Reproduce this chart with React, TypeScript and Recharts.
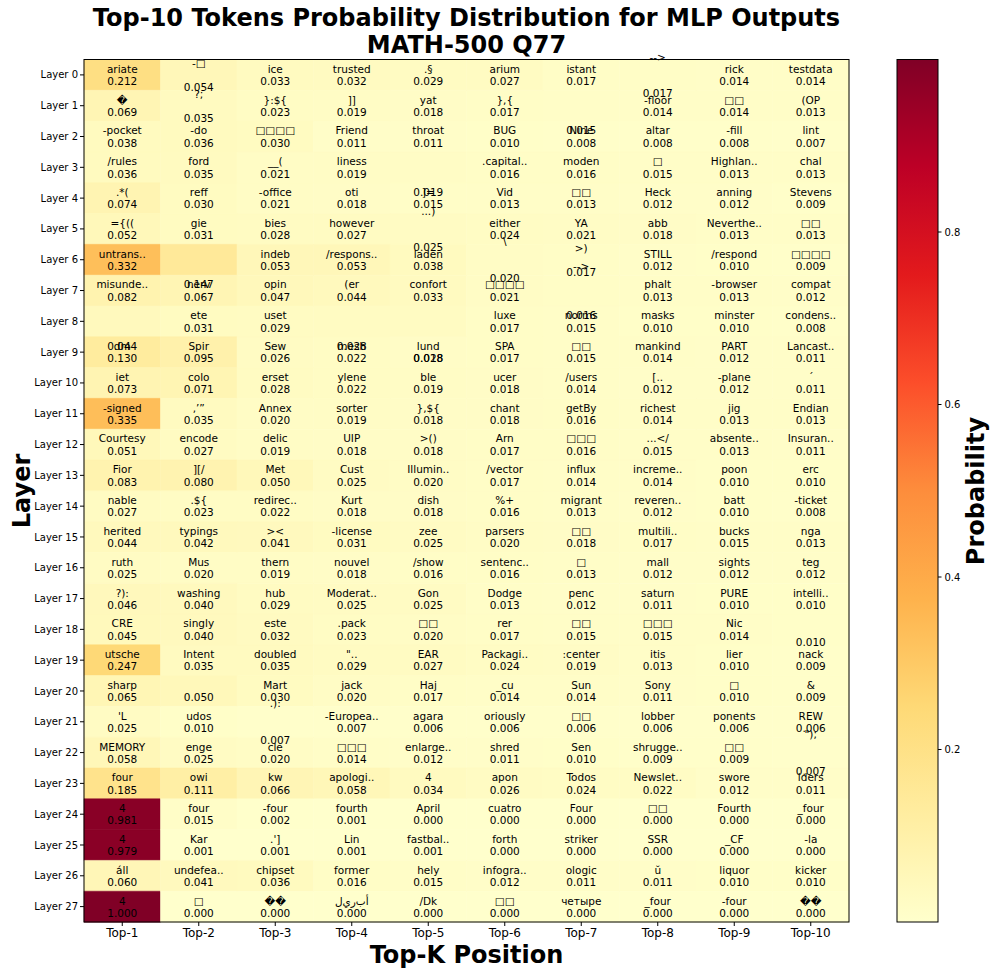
import { BarChart, Bar, XAxis, YAxis, Cell, LabelList } from "recharts";

const layers = [
  "Layer 0", "Layer 1", "Layer 2", "Layer 3", "Layer 4", "Layer 5", "Layer 6",
  "Layer 7", "Layer 8", "Layer 9", "Layer 10", "Layer 11", "Layer 12", "Layer 13",
  "Layer 14", "Layer 15", "Layer 16", "Layer 17", "Layer 18", "Layer 19", "Layer 20",
  "Layer 21", "Layer 22", "Layer 23", "Layer 24", "Layer 25", "Layer 26", "Layer 27",
];

const positions = ["Top-1", "Top-2", "Top-3", "Top-4", "Top-5", "Top-6", "Top-7", "Top-8", "Top-9", "Top-10"];

// some tokens carry newlines, which is why their text spills into neighbouring rows
const tokens: string[][] = [
  ["ariate", "-□\n", "ice", "trusted", ".§", "arium", "istant", "-->\n\n", "rick", "testdata"],
  ["�", "?;\n", "}:${", "]]", "yat", "},{", "\n\n\n", "-floor", "□□", "(OP"],
  ["-pocket", "-do", "□□□□", "Friend", "throat", "BUG", "Nine", "altar", "-fill", "lint"],
  ["/rules", "ford", "__(", "liness", "\n\n\n", ".capital..", "moden", "□", "Highlan..", "chal"],
  [".*(", "reff", "-office", "oti", "]=", "Vid", "□□", "Heck", "anning", "Stevens"],
  ["={((", "gie", "bies", "however", "...)\n\n", "either", "YA", "abb", "Neverthe..", "□□"],
  ["untrans..", "\n\n\n", "indeb", "/respons..", "laden", "\\\n\n", ">)\n", "STILL", "/respond", "□□□□"],
  ["misunde..", "nerv", "opin", "(er", "confort", "□□□□", "-->\n\n\n", "phalt", "-browser", "compat"],
  ["\n\n\n", "ete", "uset", "\n\n\n", "\n\n\n\n\n", "luxe", "norms", "masks", "minster", "condens.."],
  ["dm", "Spir", "Sew", "mesh", "lund", "SPA", "□□", "mankind", "PART", "Lancast.."],
  ["iet", "colo", "erset", "ylene", "ble", "ucer", "/users", "[..", "-plane", "´"],
  ["-signed", ",’”", "Annex", "sorter", "},${", "chant", "getBy", "richest", "jig", "Endian"],
  ["Courtesy", "encode", "delic", "UIP", ">()", "Arn", "□□□", "...</", "absente..", "Insuran.."],
  ["Fior", "][/", "Met", "Cust", "Illumin..", "/vector", "influx", "increme..", "poon", "erc"],
  ["nable", ".${", "redirec..", "Kurt", "dish", "%+", "migrant", "reveren..", "batt", "-ticket"],
  ["herited", "typings", "><", "-license", "zee", "parsers", "□□", "multili..", "bucks", "nga"],
  ["ruth", "Mus", "thern", "nouvel", "/show", "sentenc..", "□", "mall", "sights", "teg"],
  ["?):", "washing", "hub", "Moderat..", "Gon", "Dodge", "penc", "saturn", "PURE", "intelli.."],
  ["CRE", "singly", "este", ".pack", "□□", "rer", "□□", "□□□", "Nic", "\n"],
  ["utsche", "Intent", "doubled", "\"..", "EAR", "Packagi..", ":center", "itis", "lier", "nack"],
  ["sharp", " ", "Mart", "jack", "Haj", "_cu", "Sun", "Sony", "□", "&"],
  ["'L", "udos", ".):\n\n", "-Europea..", "agara", "oriously", "□□", "lobber", "ponents", "REW"],
  ["MEMORY", "enge", "cle", "□□□", "enlarge..", "shred", "Sen", "shrugge..", "□□", "\");\n\n"],
  ["four", "owi", "kw", "apologi..", "4", "apon", "Todos", "Newslet..", "swore", "iders"],
  ["4", "four", "-four", "fourth", "April", "cuatro", "Four", "□□", "Fourth", "_four"],
  ["4", "Kar", ".']", "Lin", "fastbal..", "forth", "striker", "SSR", "_CF", "-la"],
  ["áll", "undefea..", "chipset", "former", "hely", "infogra..", "ologic", "ŭ", "liquor", "kicker"],
  ["4", "□", "��", "أ\u200cب\u200cر\u200cي\u200cل", "/Dk", "□□", "четыре", "_four", "-four", "��"],
];

const probs: number[][] = [
  [0.212, 0.054, 0.033, 0.032, 0.029, 0.027, 0.017, 0.017, 0.014, 0.014],
  [0.069, 0.035, 0.023, 0.019, 0.018, 0.017, 0.015, 0.014, 0.014, 0.013],
  [0.038, 0.036, 0.030, 0.011, 0.011, 0.010, 0.008, 0.008, 0.008, 0.007],
  [0.036, 0.035, 0.021, 0.019, 0.019, 0.016, 0.016, 0.015, 0.013, 0.013],
  [0.074, 0.030, 0.021, 0.018, 0.015, 0.013, 0.013, 0.012, 0.012, 0.009],
  [0.052, 0.031, 0.028, 0.027, 0.025, 0.024, 0.021, 0.018, 0.013, 0.013],
  [0.332, 0.147, 0.053, 0.053, 0.038, 0.020, 0.017, 0.012, 0.010, 0.009],
  [0.082, 0.067, 0.047, 0.044, 0.033, 0.021, 0.016, 0.013, 0.013, 0.012],
  [0.044, 0.031, 0.029, 0.028, 0.028, 0.017, 0.015, 0.010, 0.010, 0.008],
  [0.130, 0.095, 0.026, 0.022, 0.018, 0.017, 0.015, 0.014, 0.012, 0.011],
  [0.073, 0.071, 0.028, 0.022, 0.019, 0.018, 0.014, 0.012, 0.012, 0.011],
  [0.335, 0.035, 0.020, 0.019, 0.018, 0.018, 0.016, 0.014, 0.013, 0.013],
  [0.051, 0.027, 0.019, 0.018, 0.018, 0.017, 0.016, 0.015, 0.013, 0.011],
  [0.083, 0.080, 0.050, 0.025, 0.020, 0.017, 0.014, 0.014, 0.010, 0.010],
  [0.027, 0.023, 0.022, 0.018, 0.018, 0.016, 0.013, 0.012, 0.010, 0.008],
  [0.044, 0.042, 0.041, 0.031, 0.025, 0.020, 0.018, 0.017, 0.015, 0.013],
  [0.025, 0.020, 0.019, 0.018, 0.016, 0.016, 0.013, 0.012, 0.012, 0.012],
  [0.046, 0.040, 0.029, 0.025, 0.025, 0.013, 0.012, 0.011, 0.010, 0.010],
  [0.045, 0.040, 0.032, 0.023, 0.020, 0.017, 0.015, 0.015, 0.014, 0.010],
  [0.247, 0.035, 0.035, 0.029, 0.027, 0.024, 0.019, 0.013, 0.010, 0.009],
  [0.065, 0.050, 0.030, 0.020, 0.017, 0.014, 0.014, 0.011, 0.010, 0.009],
  [0.025, 0.010, 0.007, 0.007, 0.006, 0.006, 0.006, 0.006, 0.006, 0.006],
  [0.058, 0.025, 0.020, 0.014, 0.012, 0.011, 0.010, 0.009, 0.009, 0.007],
  [0.185, 0.111, 0.066, 0.058, 0.034, 0.026, 0.024, 0.022, 0.012, 0.011],
  [0.981, 0.015, 0.002, 0.001, 0.000, 0.000, 0.000, 0.000, 0.000, 0.000],
  [0.979, 0.001, 0.001, 0.001, 0.001, 0.000, 0.000, 0.000, 0.000, 0.000],
  [0.060, 0.041, 0.036, 0.016, 0.015, 0.012, 0.011, 0.011, 0.010, 0.010],
  [1.000, 0.000, 0.000, 0.000, 0.000, 0.000, 0.000, 0.000, 0.000, 0.000],
];

const cbTicks = [0.2, 0.4, 0.6, 0.8];

const YLORRD = ["#ffffcc", "#ffeda0", "#fed976", "#feb24c", "#fd8d3c", "#fc4e2a", "#e31a1c", "#bd0026", "#800026"];

const FONT = "DejaVu Sans";
const LINE_H = 12.3;
// plot box
const PL = 84, PR = 849, PT = 59.5, PB = 922;

function rgb(h: string) {
  return [1, 3, 5].map((i) => parseInt(h.slice(i, i + 2), 16));
}

function colorFor(v: number) {
  const t = Math.min(Math.max(v, 0), 1) * 8;
  const i = Math.min(Math.floor(t), 7);
  const f = t - i;
  const a = rgb(YLORRD[i]);
  const b = rgb(YLORRD[i + 1]);
  const c = a.map((x, j) => Math.round(x + (b[j] - x) * f));
  return `rgb(${c[0]},${c[1]},${c[2]})`;
}

const rows = layers.map((layer) => {
  const r: Record<string, any> = { layer };
  positions.forEach((_, k) => (r[`c${k}`] = 1));
  return r;
});

function CellText(props: any) {
  const vb = props.viewBox && props.viewBox.width != null ? props.viewBox : props;
  const x = Number(vb.x), y = Number(vb.y), w = Number(vb.width), h = Number(vb.height);
  const i = props.index, k = props.col;
  if (i == null || !tokens[i]) return null;
  const lines = `${tokens[i][k]}\n${probs[i][k].toFixed(3)}`.split("\n");
  const n = lines.length;
  const cx = x + w / 2, cy = y + h / 2;
  return (
    <g>
      {lines.map((s, j) =>
        s.trim() === "" ? null : (
          <text key={j} x={cx} y={cy + (j - (n - 1) / 2) * LINE_H} textAnchor="middle"
            dominantBaseline="central" fontSize={10.5} fontFamily={FONT} fill="#000">
            {s}
          </text>
        )
      )}
    </g>
  );
}

export default function App() {
  const cbH = PB - PT;
  return (
    <div style={{ position: "absolute", left: 0, top: 0, width: 997, height: 976, background: "#fff" }}>
      <BarChart layout="vertical" width={997} height={976} data={rows}
        margin={{ top: PT, right: 997 - PR, bottom: 0, left: 0 }} barCategoryGap={0}>
        <XAxis type="number" domain={[0, 10]} ticks={positions.map((_, i) => i + 0.5)}
          tickFormatter={(v: number) => positions[Math.floor(v)]} interval={0} height={976 - PB}
          tickSize={4} axisLine={false} tickLine={{ stroke: "#000" }}
          tick={{ fontSize: 12, fill: "#000", fontFamily: FONT }} />
        <YAxis type="category" dataKey="layer" width={PL} interval={0} tickSize={4}
          axisLine={false} tickLine={{ stroke: "#000" }}
          tick={{ fontSize: 10, fill: "#000", fontFamily: FONT }} />
        {positions.map((_, k) => (
          <Bar key={k} dataKey={`c${k}`} stackId="grid" isAnimationActive={false}>
            {rows.map((_, i) => (
              <Cell key={i} fill={colorFor(probs[i][k])} stroke={colorFor(probs[i][k])} strokeWidth={0.5} />
            ))}
            <LabelList dataKey={`c${k}`} content={(p: any) => <CellText {...p} col={k} />} />
          </Bar>
        ))}
      </BarChart>
      <svg width={997} height={976} style={{ position: "absolute", left: 0, top: 0, pointerEvents: "none" }}>
        <defs>
          <linearGradient id="cb" x1="0" y1="1" x2="0" y2="0">
            {YLORRD.map((c, i) => (
              <stop key={i} offset={i / 8} stopColor={c} />
            ))}
          </linearGradient>
        </defs>
        <rect x={PL} y={PT} width={PR - PL} height={PB - PT} fill="none" stroke="#000" strokeWidth={1} />
        <g fontFamily={FONT} fontWeight="bold" fontSize={24} textAnchor="middle" fill="#000">
          <text x={(PL + PR) / 2} y={18} dominantBaseline="central">Top-10 Tokens Probability Distribution for MLP Outputs</text>
          <text x={(PL + PR) / 2} y={45} dominantBaseline="central">MATH-500 Q77</text>
          <text x={(PL + PR) / 2} y={955} dominantBaseline="central">Top-K Position</text>
          <text x={22} y={491} dominantBaseline="central" transform="rotate(-90 22 491)">Layer</text>
          <text x={976} y={491} dominantBaseline="central" transform="rotate(-90 976 491)">Probability</text>
        </g>
        <rect x={897} y={PT} width={41} height={cbH} fill="url(#cb)" stroke="#000" strokeWidth={1} />
        {cbTicks.map((v) => {
          const ty = PB - v * cbH;
          return (
            <g key={v}>
              <line x1={938} x2={941.5} y1={ty} y2={ty} stroke="#000" />
              <text x={944.5} y={ty} dominantBaseline="central" fontSize={10} fontFamily={FONT} fill="#000">
                {v.toFixed(1)}
              </text>
            </g>
          );
        })}
      </svg>
    </div>
  );
}
